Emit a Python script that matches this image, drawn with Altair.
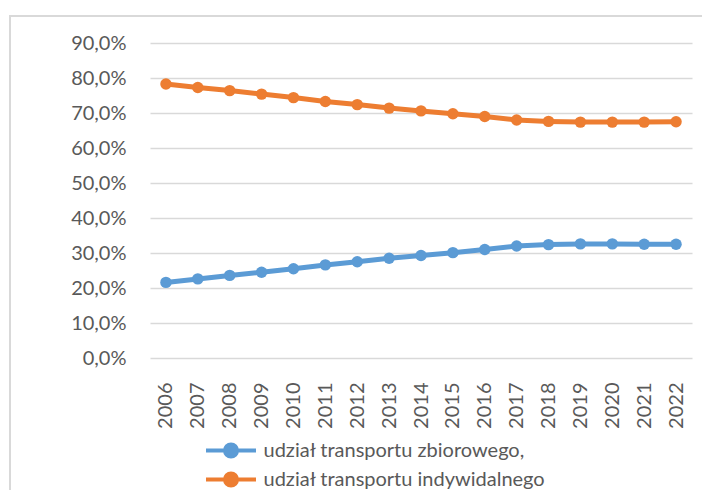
import altair as alt
import pandas as pd

years = ["2006", "2007", "2008", "2009", "2010", "2011", "2012", "2013", "2014",
         "2015", "2016", "2017", "2018", "2019", "2020", "2021", "2022"]
zbiorowy = [21.6, 22.6, 23.6, 24.5, 25.5, 26.6, 27.5, 28.5, 29.3,
            30.1, 31.0, 32.0, 32.4, 32.6, 32.6, 32.5, 32.5]
indywidualny = [78.3, 77.3, 76.4, 75.4, 74.4, 73.3, 72.4, 71.4, 70.6,
                69.8, 69.0, 68.0, 67.6, 67.4, 67.4, 67.4, 67.5]
series_names = ["udział transportu zbiorowego,", "udział transportu indywidalnego"]
colors = ["#5B9BD5", "#ED7D31"]

rows = []
for name, vals in zip(series_names, [zbiorowy, indywidualny]):
    for y, v in zip(years, vals):
        rows.append({"year": y, "value": v, "series": name})
df = pd.DataFrame(rows)

FONT = "Lato"
TXT = "#595959"
GRID = "#D9D9D9"

sym_path = ("M-2,0L2,0"
            "M-0.48,0A0.48,0.48 0 1,1 0.48,0A0.48,0.48 0 1,1 -0.48,0"
            "M-0.3,0A0.3,0.3 0 1,1 0.3,0A0.3,0.3 0 1,1 -0.3,0"
            "M-0.12,0A0.12,0.12 0 1,1 0.12,0A0.12,0.12 0 1,1 -0.12,0")

x_enc = alt.X("year:N", sort=years, title=None,
              scale=alt.Scale(type="point", padding=0.5),
              axis=alt.Axis(labelAngle=-90, labelFont=FONT, labelFontSize=20,
                            labelColor=TXT, ticks=False, tickSize=0, domain=False,
                            grid=False, labelPadding=24))
y_enc = alt.Y("value:Q", title=None,
              scale=alt.Scale(domain=[0, 90], nice=False),
              axis=alt.Axis(values=[0, 10, 20, 30, 40, 50, 60, 70, 80, 90],
                            labelExpr="replace(format(datum.value, '.1f'), '.', ',') + '%'",
                            labelFont=FONT, labelFontSize=20, labelColor=TXT,
                            ticks=False, tickSize=0, domain=False, grid=True,
                            gridColor=GRID, gridWidth=1.5, labelPadding=24))
c_enc = alt.Color("series:N", sort=series_names,
                  scale=alt.Scale(domain=series_names, range=colors),
                  legend=alt.Legend(title=None, orient="none", legendX=66.5, legendY=393,
                                    direction="vertical", symbolType=sym_path,
                                    symbolSize=625, symbolStrokeWidth=4,
                                    labelFont=FONT, labelFontSize=20, labelColor=TXT,
                                    labelOffset=18, rowPadding=-1, padding=0,
                                    labelLimit=600))

base = alt.Chart(df).encode(x=x_enc, y=y_enc, color=c_enc)
line = base.mark_line(strokeWidth=5)
pts = base.mark_point(filled=True, size=130, opacity=1)

frame = alt.Chart(pd.DataFrame({"a": [0]})).mark_rect(
    fillOpacity=0, stroke=GRID, strokeWidth=2
).encode(x=alt.value(-140), x2=alt.value(900), y=alt.value(-27), y2=alt.value(900))

chart = alt.layer(frame, line, pts).properties(
    width=542, height=315, autosize="none",
    padding={"left": 142, "top": 35, "right": 10, "bottom": 132}
).configure_view(stroke=None)

chart.save("out.html", embed_options={"renderer": "svg", "actions": False})
